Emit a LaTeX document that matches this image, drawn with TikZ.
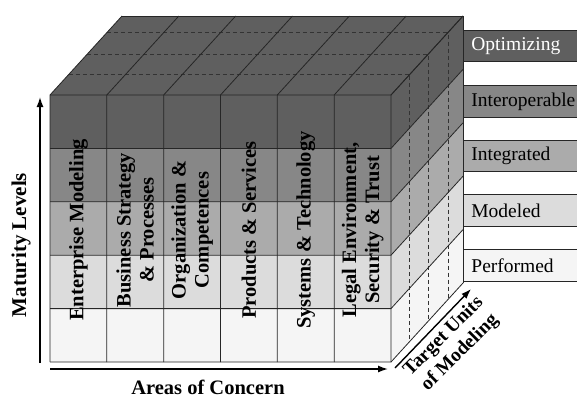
\documentclass[tikz,border=0pt]{standalone}
\usepackage{fontspec}
\setmainfont{Liberation Serif}
\usetikzlibrary{arrows.meta}
\definecolor{lvA}{HTML}{5F5F5F}
\definecolor{lvB}{HTML}{878787}
\definecolor{lvC}{HTML}{ABABAB}
\definecolor{lvD}{HTML}{DCDCDC}
\definecolor{lvE}{HTML}{F5F5F5}
\begin{document}
\begin{tikzpicture}[x=1pt,y=-1pt,>={Latex[length=10pt,width=7pt]}]
        \tikzstyle{grid} = [draw=black!85,line width=0.8pt]
        \tikzstyle{hidden} = [draw=black!80,line width=0.7pt,dash pattern=on 4pt off 3pt]
        \tikzstyle{axis} = [line width=1.4pt,->]
        \tikzstyle{level} = [draw=black!85,line width=0.8pt,minimum height=31.5pt,text width=114pt,inner xsep=8pt,align=left,anchor=west,font=\fontsize{19.5}{22}\selectfont]
        \tikzstyle{area} = [rotate=90,align=center,font=\fontsize{20.5}{23}\selectfont\bfseries]
        \useasboundingbox (0,0) rectangle (577,399);
        \foreach \i/\c in {0/lvA,1/lvB,2/lvC,3/lvD,4/lvE} {
            \fill[\c] (50,95+53.4*\i) rectangle (391,148.4+53.4*\i);
            \fill[\c] (391,95+53.4*\i) -- (463,16+53.4*\i) -- (463,69.4+53.4*\i) -- (391,148.4+53.4*\i) -- cycle;
        }
        \fill[lvA] (50,95) -- (122,16) -- (463,16) -- (391,95) -- cycle;
        \foreach \t in {0.26,0.52,0.79}
            \draw[hidden] (50+72*\t,95-79*\t) -- (391+72*\t,95-79*\t) -- (391+72*\t,362-79*\t);
        \foreach \j in {0,...,6}
            \draw[grid] (50+56.83*\j,362) -- (50+56.83*\j,95) -- (122+56.83*\j,16);
        \foreach \i in {0,...,5}
            \draw[grid] (50,95+53.4*\i) -- (391,95+53.4*\i) -- (463,16+53.4*\i);
        \draw[grid] (122,16) -- (463,16) -- (463,283);
        \node[area] (enterprise) at (78.4,230) {Enterprise Modeling};
        \node[area] (business) at (135.2,230) {Business Strategy\\\& Processes};
        \node[area] (organization) at (192.1,230) {Organization \&\\Competences};
        \node[area] (products) at (248.9,230) {Products \& Services};
        \node[area] (systems) at (305.7,230) {Systems \& Technology};
        \node[area] (legal) at (362.6,230) {Legal Environment,\\Security \& Trust};
        \node[level,fill=lvA,text=white] (optimizing) at (463,46) {Optimizing};
        \node[level,fill=lvB] (interoperable) at (463,101.5) {Interoperable};
        \node[level,fill=lvC] (integrated) at (463,156) {Integrated};
        \node[level,fill=lvD] (modeled) at (463,210.5) {Modeled};
        \node[level,fill=lvE] (performed) at (463,265.5) {Performed};
        \coordinate (maturity0) at (40,363);
        \coordinate (maturity1) at (40,97);
        \coordinate (areas0) at (50,369);
        \coordinate (areas1) at (388,369);
        \coordinate (units0) at (395,368);
        \coordinate (units1) at (471,289);
        \foreach \from/\to in {maturity0/maturity1, areas0/areas1, units0/units1}
            \draw[axis] (\from) -- (\to);
        \node[rotate=90,font=\fontsize{21}{24}\selectfont\bfseries] (maturity) at (21,245) {Maturity Levels};
        \node[font=\fontsize{20.5}{24}\selectfont\bfseries] (areas) at (208,387) {Areas of Concern};
        \node[rotate=45,align=center,inner sep=1pt,font=\fontsize{19.5}{23}\selectfont\bfseries] (units) at (452,345) {Target Units\\of Modeling};
    \end{tikzpicture}
\end{document}
